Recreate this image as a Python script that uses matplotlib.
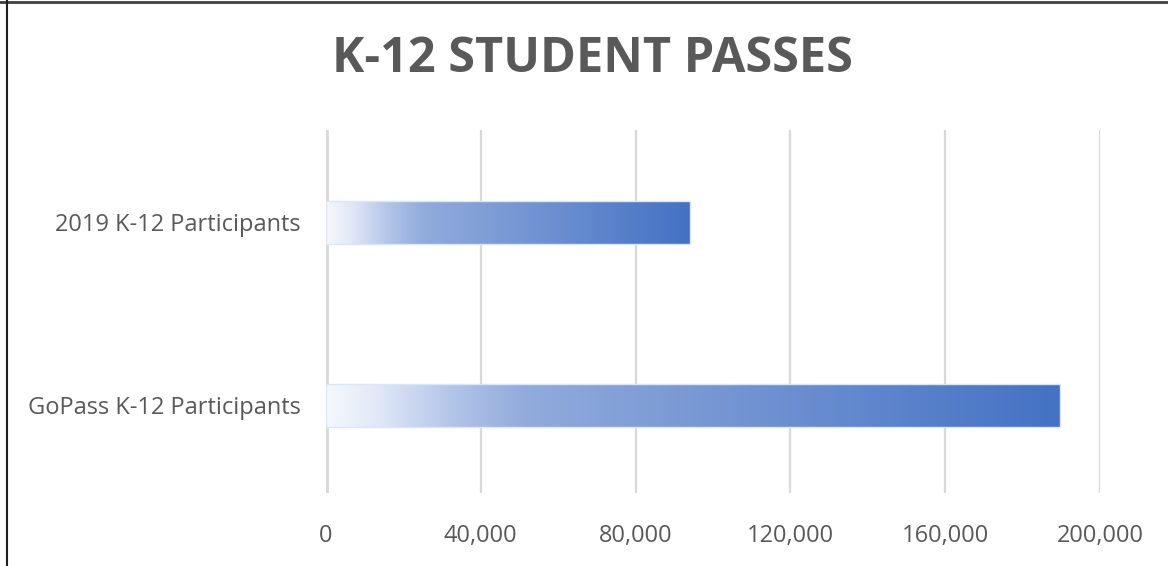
import numpy as np
import matplotlib
matplotlib.use("Agg")
import matplotlib.pyplot as plt
from matplotlib.colors import LinearSegmentedColormap

categories = ["GoPass K-12 Participants", "2019 K-12 Participants"]
values = [189700, 94000]
xticks = [0, 40000, 80000, 120000, 160000, 200000]
xticklabels = ["0", "40,000", "80,000", "120,000", "160,000", "200,000"]
title = "K-12 STUDENT PASSES"

plt.rcParams['font.family'] = ['Open Sans', 'DejaVu Sans']
txt = "#595959"

fig = plt.figure(figsize=(11.68, 5.66), dpi=100)
ax = fig.add_axes([326/1168, 73/566, 774/1168, 363/566])

cmap = LinearSegmentedColormap.from_list("grad", [
    (0.00, (0.96, 0.97, 0.99)),
    (0.07, (0.88, 0.91, 0.97)),
    (0.17, (0.70, 0.77, 0.91)),
    (0.27, (0.57, 0.67, 0.86)),
    (1.00, (0x44/255, 0x72/255, 0xC4/255)),
])

ypos = np.arange(len(categories))
bars = ax.barh(ypos, values, height=0.235, color="none", edgecolor=(0.86, 0.90, 0.97), linewidth=1, zorder=3)
grad = np.linspace(0, 1, 256).reshape(1, -1)
for b in bars:
    x0, y0 = b.get_x(), b.get_y()
    w, h = b.get_width(), b.get_height()
    im = ax.imshow(grad, cmap=cmap, aspect="auto", extent=(x0, x0 + w, y0, y0 + h), zorder=2, interpolation="bilinear")
    im.set_clip_path(b)

ax.set_xlim(0, 200000)
ax.set_ylim(-0.48, 1.503)
ax.set_xticks(xticks)
ax.set_xticklabels(xticklabels)
ax.set_yticks(ypos)
ax.set_yticklabels(categories)
for s in ax.spines.values():
    s.set_visible(False)
ax.grid(axis="x", color="#d9d9d9", linewidth=1.6, zorder=0)
ax.axvline(0, color="#d9d9d9", linewidth=3.5, zorder=1)
ax.tick_params(axis="both", length=0, colors=txt, labelsize=17)
ax.tick_params(axis="y", pad=18)
ax.tick_params(axis="x", pad=22)

fig.text(592/1168, 1 - 60/566, title, ha="center", va="center", fontsize=35, fontweight="bold", color=txt)

# image border (top and left)
fig.add_artist(plt.Line2D([0, 1], [1 - 1.5/566, 1 - 1.5/566], transform=fig.transFigure, color="#404040", linewidth=2))
fig.add_artist(plt.Line2D([7/1168, 7/1168], [0, 1], transform=fig.transFigure, color="#202020", linewidth=1.5))

fig.savefig("out.png", dpi=100, facecolor="white")
